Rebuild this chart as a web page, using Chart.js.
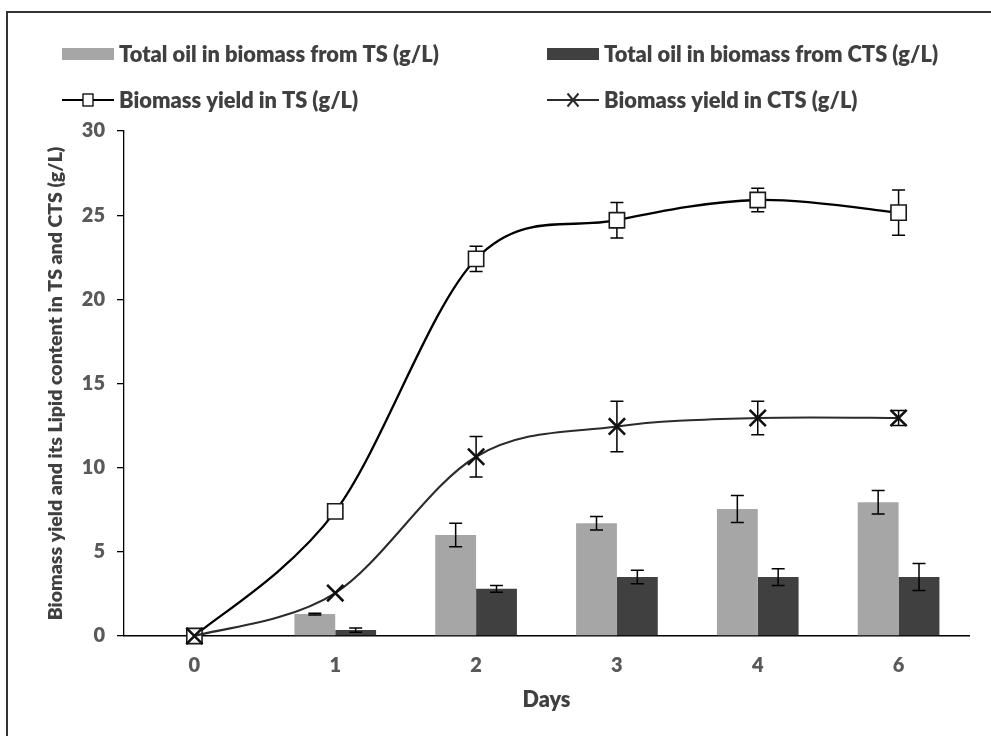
<!DOCTYPE html>
<html>
<head>
<meta charset="utf-8">
<script src="https://cdn.jsdelivr.net/npm/chart.js@4.4.1/dist/chart.umd.min.js"></script>
<style>
html,body{margin:0;padding:0;background:#fff;overflow:hidden}
#wrap{position:relative;width:991px;height:736px;overflow:hidden}
#c{position:absolute;left:0;top:0}
#frame{position:absolute;left:6px;top:11px;width:1100px;height:900px;border:2px solid #333;box-sizing:border-box;pointer-events:none}
</style>
</head>
<body>
<div id="wrap"><canvas id="c" width="991" height="736"></canvas><div id="frame"></div></div>
<script>
// ---- data ----
const days = ['0', '1', '2', '3', '4', '6'];
const seriesNames = [
  'Total oil in biomass from TS (g/L)',
  'Total oil in biomass from CTS (g/L)',
  'Biomass yield in TS (g/L)',
  'Biomass yield in CTS (g/L)'
];
const tsOil = [0, 1.3, 6.0, 6.7, 7.55, 7.95];
const tsOilErr = [0, 0.05, 0.7, 0.4, 0.8, 0.7];
const ctsOil = [0, 0.35, 2.8, 3.5, 3.5, 3.5];
const ctsOilErr = [0, 0.12, 0.2, 0.4, 0.5, 0.8];
const tsYield = [0, 7.4, 22.4, 24.7, 25.9, 25.15];
const tsYieldErr = [0, 0, 0.75, 1.05, 0.7, 1.35];
const ctsYield = [0, 2.55, 10.65, 12.45, 12.95, 12.95];
const ctsYieldErr = [0, 0, 1.2, 1.5, 1.0, 0.45];
const yMin = 0, yMax = 30, yStep = 5;
const xTitle = 'Days';
const yTitle = 'Biomass yield and its Lipid content in TS and CTS (g/L)';

// ---- styles ----
const FAMILY = 'Lato, "Open Sans", sans-serif';
const WEIGHT = '800';
const mc = document.createElement('canvas').getContext('2d');
function fitSize(text, width) {
  mc.font = WEIGHT + ' 100px ' + FAMILY;
  return Math.round(100 * width / mc.measureText(text).width * 10) / 10;
}
const legendSize = fitSize(seriesNames[0], 320);
const tickSize = 20;
const yTitleSize = fitSize(yTitle, 473);
const xTitleSize = fitSize(xTitle, 48);

const colTS = '#a6a6a6', colCTS = '#404040';
const textDark = '#404040', textTick = '#595959';

function setExcelCP(meta) {
  const pts = meta.data, n = pts.length;
  for (let i = 0; i < n; i++) {
    const p = pts[i], a = pts[Math.max(i - 1, 0)], b = pts[Math.min(i + 1, n - 1)];
    const dx = (b.x - a.x) / 6, dy = (b.y - a.y) / 6;
    p.cp1x = p.x - dx; p.cp1y = p.y - dy;
    p.cp2x = p.x + dx; p.cp2y = p.y + dy;
  }
  if (meta.dataset) { meta.dataset._pointsUpdated = true; meta.dataset._path = undefined; }
}

function drawErr(chart, index, half) {
  const ds = chart.data.datasets[index];
  const meta = chart.getDatasetMeta(index);
  const y = chart.scales.y, ctx = chart.ctx;
  ctx.save();
  ctx.strokeStyle = '#000';
  ctx.lineWidth = 1.5;
  ds.errors.forEach((e, i) => {
    if (!e) return;
    const v = ds.data[i];
    const x = meta.data[i].x;
    const y1 = y.getPixelForValue(v + e), y2 = y.getPixelForValue(v - e);
    ctx.beginPath();
    ctx.moveTo(x, y1); ctx.lineTo(x, y2);
    ctx.moveTo(x - half, y1); ctx.lineTo(x + half, y1);
    ctx.moveTo(x - half, y2); ctx.lineTo(x + half, y2);
    ctx.stroke();
  });
  ctx.restore();
}

const errPlugin = {
  id: 'errbars',
  beforeDatasetDraw(chart, args) {
    const ds = chart.data.datasets[args.index];
    if (ds.type === 'line') {
      setExcelCP(args.meta);
      drawErr(chart, args.index, 6.5);
    }
  },
  afterDatasetDraw(chart, args) {
    const ds = chart.data.datasets[args.index];
    if (ds.type === 'bar') drawErr(chart, args.index, 6.5);
  }
};

const legendPlugin = {
  id: 'gridLegend',
  afterDraw(chart) {
    const ctx = chart.ctx;
    const cols = [62, 547], rows = [54, 100], symW = 52;
    ctx.save();
    ctx.font = WEIGHT + ' ' + legendSize + 'px ' + FAMILY;
    ctx.textBaseline = 'middle';
    ctx.textAlign = 'left';
    chart.data.datasets.forEach((ds, i) => {
      const x = cols[i % 2], yy = rows[Math.floor(i / 2)];
      if (ds.type === 'bar') {
        ctx.fillStyle = ds.backgroundColor;
        ctx.fillRect(x, yy - 6, symW, 12);
      } else {
        ctx.strokeStyle = ds.borderColor;
        ctx.lineWidth = 2;
        ctx.beginPath(); ctx.moveTo(x, yy); ctx.lineTo(x + symW, yy); ctx.stroke();
        const cx = x + symW / 2;
        if (ds.pointStyle === 'rect') {
          ctx.fillStyle = '#fff';
          ctx.lineWidth = 1.3;
          ctx.fillRect(cx - 5, yy - 6, 10, 12);
          ctx.strokeRect(cx - 5, yy - 6, 10, 12);
        } else {
          ctx.lineWidth = 2;
          ctx.beginPath();
          ctx.moveTo(cx - 5.5, yy - 6.5); ctx.lineTo(cx + 5.5, yy + 6.5);
          ctx.moveTo(cx + 5.5, yy - 6.5); ctx.lineTo(cx - 5.5, yy + 6.5);
          ctx.stroke();
        }
      }
      ctx.fillStyle = textDark;
      ctx.fillText(seriesNames[i], x + symW + 5, yy + 1);
    });
    ctx.restore();
  }
};

new Chart(document.getElementById('c'), {
  type: 'bar',
  data: {
    labels: days,
    datasets: [
      { type: 'bar', label: seriesNames[0], data: tsOil, errors: tsOilErr, backgroundColor: colTS, borderWidth: 0, order: 3 },
      { type: 'bar', label: seriesNames[1], data: ctsOil, errors: ctsOilErr, backgroundColor: colCTS, borderWidth: 0, order: 3 },
      { type: 'line', label: seriesNames[2], data: tsYield, errors: tsYieldErr, borderColor: '#000', borderWidth: 2.3,
        tension: 0.4, pointStyle: 'rect', pointRadius: 10.8, pointBackgroundColor: '#fff', pointBorderColor: '#1a1a1a',
        pointBorderWidth: 1.6, clip: false, order: 2 },
      { type: 'line', label: seriesNames[3], data: ctsYield, errors: ctsYieldErr, borderColor: '#2b2b2b', borderWidth: 2.1,
        tension: 0.4, pointStyle: 'crossRot', pointRadius: 11.5, pointBorderColor: '#111',
        pointBorderWidth: 2.6, clip: false, order: 1 }
    ]
  },
  options: {
    responsive: false,
    animation: false,
    devicePixelRatio: 1,
    layout: { padding: { top: 131, right: 22, left: 0, bottom: 0 } },
    plugins: { legend: { display: false }, tooltip: { enabled: false }, title: { display: false } },
    scales: {
      x: {
        type: 'category',
        offset: true,
        grid: { display: true, drawOnChartArea: false, drawTicks: false },
        border: { display: true, color: '#000', width: 1.5 },
        ticks: { color: textTick, font: { family: FAMILY, size: tickSize, weight: WEIGHT }, padding: 18 },
        title: { display: true, text: xTitle, color: textDark, font: { family: FAMILY, size: xTitleSize, weight: WEIGHT },
                 padding: { top: 0, bottom: 23 } },
        afterFit(s) { s.height = 100; }
      },
      y: {
        min: yMin, max: yMax,
        ticks: { stepSize: yStep, color: textTick, font: { family: FAMILY, size: tickSize, weight: WEIGHT }, padding: 12 },
        grid: { display: true, drawOnChartArea: false, drawTicks: true, tickLength: 7, color: '#000', lineWidth: 1.3 },
        border: { display: true, color: '#000', width: 1.3 },
        title: { display: true, text: yTitle, color: textDark, font: { family: FAMILY, size: yTitleSize, weight: WEIGHT },
                 padding: { top: 44, bottom: 0 } },
        afterFit(s) { s.width = 124; }
      }
    },
    datasets: { bar: { barPercentage: 1, categoryPercentage: 0.58 } }
  },
  plugins: [errPlugin, legendPlugin]
});
</script>
</body>
</html>
